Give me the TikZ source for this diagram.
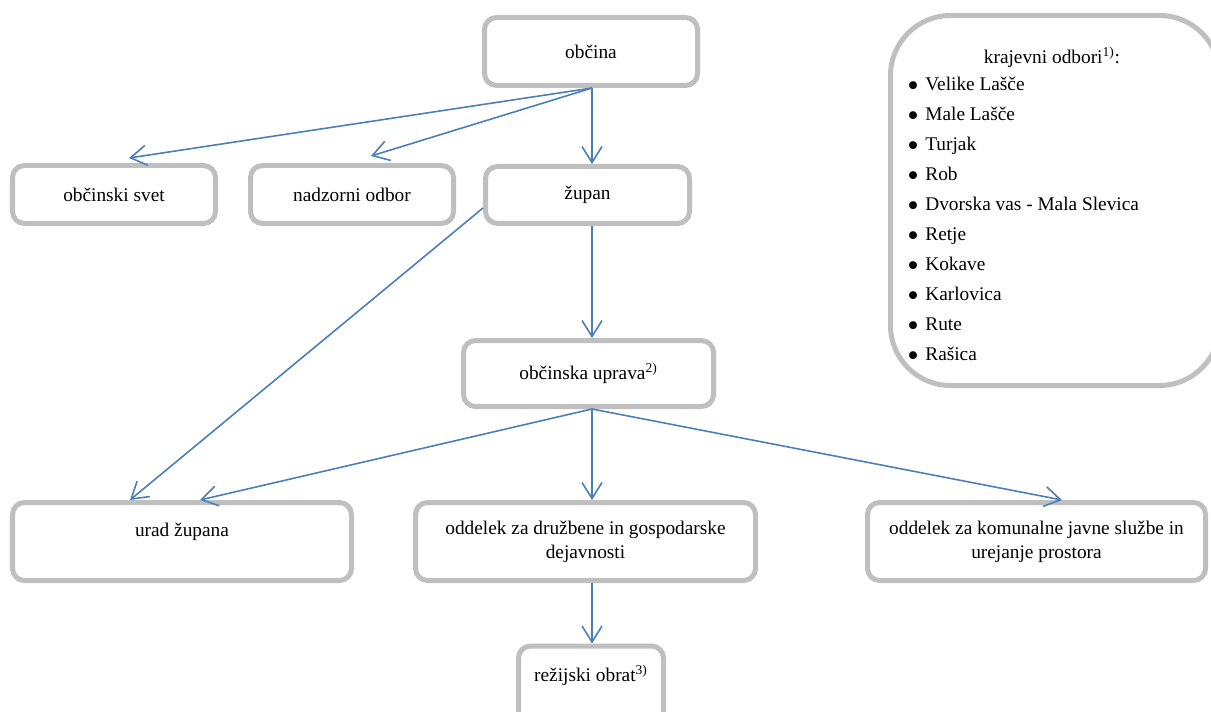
\documentclass[tikz,border=0pt]{standalone}
\usepackage{fontspec}
\setmainfont{Liberation Serif}
\usepackage{xcolor}
\usepackage{tikz}
\usetikzlibrary{positioning,arrows.meta,calc}

\definecolor{boxgray}{HTML}{BFBFBF}
\definecolor{arrblue}{HTML}{4A7EBB}
\newcommand{\kbullet}{\makebox[0.36cm][l]{\raisebox{-0.65ex}{\scalebox{1.7}{\textbullet}}}}

\begin{document}
\begin{tikzpicture}[
  unit/.style={draw=boxgray, line width=0.1cm, rounded corners=0.24cm, fill=white, align=center, font=\fontsize{11}{13.5}\selectfont, inner sep=2pt},
  wide/.style={unit, minimum width=6.78cm, minimum height=1.56cm},
  arr/.style={-{Straight Barb[length=3.2mm, width=4mm]}, draw=arrblue, line width=0.9pt}
]
\useasboundingbox (0,0) rectangle (24.22,14.22);

\coordinate (spine) at (11.84, 0);

\node[unit, minimum width=4.26cm, minimum height=1.36cm] (obcina) at (11.82, 13.19) {občina};

\node[unit, minimum width=4.06cm, minimum height=1.16cm] (svet) at (2.28, 10.33) {občinski svet};
\node[unit, minimum width=4.06cm, minimum height=1.16cm] (nadzor) at (7.04, 10.33) {nadzorni odbor};
\node[unit, minimum width=4.08cm, minimum height=1.14cm] (zupan) at (11.75, 10.32) {župan};

\node[unit, minimum width=5.0cm, minimum height=1.32cm] (uprava) at (11.77, 6.75) {občinska uprava\textsuperscript{2)}};

\node[wide] (urad) at (3.64, 3.39) {urad župana\\ \mbox{}};
\node[wide, minimum width=6.8cm] (druzbene) at (11.71, 3.39) {oddelek za družbene in gospodarske\\dejavnosti};
\node[wide, minimum width=6.76cm] (komunalne) at (20.73, 3.39) {oddelek za komunalne javne službe in\\urejanje prostora};

\node[unit, minimum width=2.9cm, minimum height=1.56cm] (rezijski) at (11.82, 0.52) {režijski obrat\textsuperscript{3)}\\ \mbox{}};

% krajevni odbori
\node[draw=boxgray, line width=0.1cm, rounded corners=1.2cm, minimum width=6.58cm, minimum height=7.4cm] (krajevni) at (21.10, 10.21) {};
\node[font=\fontsize{11}{13.5}\selectfont] (krajtitle) at (21.04, 13.08) {krajevni odbori\textsuperscript{1)}:};
\node[anchor=north west, inner sep=0pt, align=left, font=\fontsize{11}{17.07}\selectfont] (krajlist) at (18.14, 12.68) {%
\kbullet Velike Lašče\\
\kbullet Male Lašče\\
\kbullet Turjak\\
\kbullet Rob\\
\kbullet Dvorska vas - Mala Slevica\\
\kbullet Retje\\
\kbullet Kokave\\
\kbullet Karlovica\\
\kbullet Rute\\
\kbullet Rašica};

\draw[arr] (obcina.south -| spine) -- ([xshift=0.3cm, yshift=0.1cm]svet.north);
\draw[arr] (obcina.south -| spine) -- ([xshift=0.38cm, yshift=0.14cm]nadzor.north);
\draw[arr] (obcina.south -| spine) -- (zupan.north -| spine);
\draw[arr] (zupan.south -| spine) -- (uprava.north -| spine);
\draw[arr] ([yshift=-0.26cm]zupan.west) -- ([xshift=-1.04cm]urad.north);
\draw[arr] (uprava.south -| spine) -- ([xshift=0.36cm]urad.north);
\draw[arr] (uprava.south -| spine) -- (druzbene.north -| spine);
\draw[arr] (uprava.south -| spine) -- ([xshift=0.51cm]komunalne.north);
\draw[arr] (druzbene.south -| spine) -- (rezijski.north -| spine);

\end{tikzpicture}
\end{document}
